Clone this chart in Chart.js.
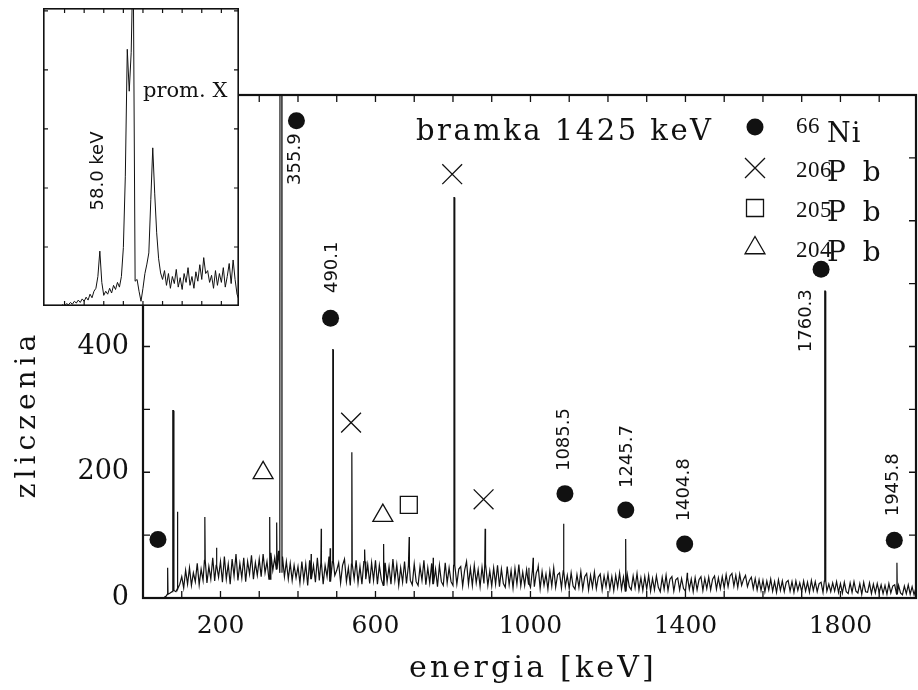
<!DOCTYPE html>
<html><head><meta charset="utf-8">
<script src="https://cdn.jsdelivr.net/npm/chart.js@4.4.1/dist/chart.umd.min.js"></script>
<style>
html,body{margin:0;padding:0;background:#fff;}
#wrap{position:relative;width:918px;height:690px;overflow:hidden;background:#fff;}
#main{position:absolute;left:0;top:0;}
#inset{position:absolute;left:43px;top:8px;background:#fff;}
</style></head><body>
<div id="wrap">
<canvas id="main" width="918" height="690"></canvas>
<canvas id="inset" width="196" height="298"></canvas>
</div>
<script>
// ---------- DATA ----------
const bgStartKeV = 0;
const bgStepKeV = 5;
// background counts, one value per 5 keV (0 ... 1995 keV)
const background = [
0,0,0,0,0,0,0,0,0,0,0,1,3,6,8,10,12,10,14,22,
34,16,44,22,48,20,40,26,55,21,46,28,60,24,50,30,64,27,52,33,
58,25,66,30,54,22,62,35,70,28,55,32,64,26,58,38,68,30,56,36,
62,34,70,40,58,30,72,44,64,46,75,40,66,34,58,30,55,28,52,32,
50,24,58,28,54,20,60,30,52,25,64,28,56,22,52,34,66,26,58,36,
44,56,24,52,62,26,48,20,54,30,60,24,50,22,58,30,53,23,56,28,
60,22,52,30,20,56,26,50,22,62,28,53,20,48,25,58,23,52,28,21,
54,26,20,50,28,60,21,48,24,55,22,46,18,52,26,20,56,24,48,26,
20,52,22,46,50,19,44,58,22,47,20,52,24,45,18,49,23,54,20,43,
19,48,22,52,18,46,23,17,50,21,44,16,47,22,53,19,41,20,45,22,
17,44,18,40,46,15,42,20,38,14,43,19,48,17,37,40,16,43,18,36,
15,40,19,14,37,17,42,14,34,39,13,36,17,41,15,33,38,13,35,18,
38,14,34,12,36,17,40,14,33,11,37,18,13,35,16,39,13,32,12,34,
14,36,11,31,13,35,17,10,33,14,36,12,30,34,11,29,32,13,31,15,
11,33,14,30,10,32,13,29,34,12,31,15,33,13,30,35,14,32,15,34,
16,37,18,35,39,19,36,17,38,20,30,36,18,28,33,15,31,13,29,12,
28,10,27,13,30,11,26,9,29,12,27,10,25,28,11,26,9,27,12,24,
10,27,11,25,9,28,12,26,10,23,25,9,27,11,22,10,24,11,26,9,
23,8,25,10,7,24,9,26,11,8,23,6,25,10,9,24,7,22,8,23,
9,21,7,20,6,23,8,19,21,6,20,8,5,19,7,21,6,18,5,17
];
// gamma lines (energy keV, peak counts, flat-top half width keV)
const peakEnergies = [63.6,78,89,159.6,189.8,327,345,355.9,434,460,483,490.1,539,572,621,687,749,803,883,996,1007,1020,1085.5,1245.7,1404.8,1760.3,1945.8];
const peakCounts   = [48,298,137,129,80,129,120,2000,70,110,79,395,232,77,86,97,64,637,110,48,64,50,118,94,40,488,56];
const peakFlat     = [0,0.6,0,0,0,0,0,1.8,0,0,0,0.3,0,0,0,0,0,0.4,0,0,0,0,0,0,0,0.8,0];

// marker symbols
const ni66Energy  = [38.6,396,484,1089,1246,1398,1750,1939];
const ni66Counts  = [93,759,445,166,140,86,523,92];
const pb206Energy = [798,537,879];
const pb206Counts = [674,279,157];
const pb205Energy = [686];
const pb205Counts = [148];
const pb204Energy = [310,619];
const pb204Counts = [199,131];

// rotated line labels
const lineLabelText   = ['355.9','490.1','1085.5','1245.7','1404.8','1760.3','1945.8'];
const lineLabelEnergy = [394,489,1087,1249,1398,1712,1936];
const lineLabelCounts = [698,526,252,225,172,441,180];

// ticks / texts
const xTickValues = [100,200,300,400,500,600,700,800,900,1000,1100,1200,1300,1400,1500,1600,1700,1800,1900];
const xTickLabels = [200,600,1000,1400,1800];
const yTickLabels = [0,200,400];
const legendMass = ['66','206','205','204'];
const legendElem = ['Ni','Pb','Pb','Pb'];
const gateText = 'bramka 1425 keV';
const xTitle = 'energia [keV]';
const yTitle = 'zliczenia';

// inset: X-ray region, one value per keV from 29 keV
const insetStartKeV = 29;
const insetStepKeV = 1;
const insetCounts = [
0,0,0,0,0,0,0,0,0,0,
0.02,0,0.04,0.02,0.06,0.03,0.08,0.05,0.1,0.06,
0.12,0.08,0.15,0.1,0.2,0.14,0.25,0.3,0.5,0.93,0.4,
0.18,0.25,0.2,0.3,0.22,0.35,0.28,0.4,0.32,0.5,
0.99,2.2,4.35,3.64,4.3,6.0,0.42,0.45,0.25,0.08,0.3,0.55,0.71,0.9,1.8,2.68,1.9,1.24,0.8,0.56,
0.45,0.6,0.35,0.55,0.3,0.5,0.38,0.62,0.32,0.48,
0.28,0.55,0.4,0.65,0.35,0.5,0.3,0.58,0.42,0.7,
0.45,0.82,0.55,0.6,0.4,0.52,0.3,0.6,0.35,0.55,
0.4,0.65,0.32,0.5,0.72,0.38,0.78,0.45,0.2,0.1
];
const insetText1 = '58.0 keV';
const insetText2 = 'prom. X';

// ---------- BUILD ----------
const K = '#111';
function buildSpectrum(){
  const pts = [];
  background.forEach((v,i)=>{
    const e = bgStartKeV + i*bgStepKeV;
    const hit = peakEnergies.some((pe,j)=> e > pe-peakFlat[j]-1.01 && e < pe+peakFlat[j]+1.01);
    if(!hit) pts.push({x:e,y:v});
  });
  peakEnergies.forEach((pe,j)=>{
    const base = background[Math.min(background.length-1, Math.round((pe-bgStartKeV)/bgStepKeV))];
    const w = peakFlat[j];
    pts.push({x:pe-w-1,y:base},{x:pe-w,y:peakCounts[j]},{x:pe+w,y:peakCounts[j]},{x:pe+w+1,y:base});
  });
  pts.sort((a,b)=>a.x-b.x);
  return pts;
}
const xy = (xs,ys)=>xs.map((x,i)=>({x:x,y:ys[i]}));

function spaced(ctx, px){ try{ ctx.letterSpacing = px+'px'; }catch(e){} }

const mainPlugin = {
  id:'mainDeco',
  afterDraw(chart){
    const {ctx, chartArea:a, scales:{x,y}} = chart;
    ctx.save();
    // inward ticks
    ctx.strokeStyle = K; ctx.lineWidth = 1.3;
    ctx.beginPath();
    x.ticks.forEach(t=>{
      if(t.value<=x.min||t.value>=x.max) return;
      const px = x.getPixelForValue(t.value);
      ctx.moveTo(px,a.bottom); ctx.lineTo(px,a.bottom-7);
      ctx.moveTo(px,a.top); ctx.lineTo(px,a.top+7);
    });
    y.ticks.forEach(t=>{
      if(t.value<=y.min||t.value>=y.max) return;
      const py = y.getPixelForValue(t.value);
      ctx.moveTo(a.left,py); ctx.lineTo(a.left+7,py);
      ctx.moveTo(a.right,py); ctx.lineTo(a.right-7,py);
    });
    ctx.stroke();
    // frame
    ctx.lineWidth = 2.2;
    ctx.strokeRect(a.left, a.top, a.right-a.left, a.bottom-a.top);
    ctx.fillStyle = K;
    // x tick labels (at the scale's own tick positions)
    ctx.font = '25px "DejaVu Serif"'; ctx.textAlign='center'; ctx.textBaseline='alphabetic';
    x.ticks.forEach(t=>{
      if(xTickLabels.includes(t.value)) ctx.fillText(String(t.value), x.getPixelForValue(t.value), 633);
    });
    // rotated line labels
    ctx.font = '18px "DejaVu Sans"';
    ctx.textAlign = 'center'; ctx.textBaseline = 'middle';
    lineLabelText.forEach((s,i)=>{
      ctx.save();
      ctx.translate(x.getPixelForValue(lineLabelEnergy[i]), y.getPixelForValue(lineLabelCounts[i]));
      ctx.rotate(-Math.PI/2);
      ctx.fillText(s,0,0);
      ctx.restore();
    });
    // gate text
    ctx.textAlign='left'; ctx.textBaseline='alphabetic';
    ctx.font = '29px "DejaVu Serif"'; spaced(ctx,2.5);
    ctx.fillText(gateText, 416, 140);
    spaced(ctx,0);
    // legend
    const rows = [127,168,208,248];
    const styles = ['circle','crossRot','rect','triangle'];
    rows.forEach((ry,i)=>{
      drawSym(ctx, styles[i], 755, ry);
      ctx.fillStyle = K;
      ctx.font = '23px "Liberation Serif"'; spaced(ctx,0.5);
      ctx.fillText(legendMass[i], 796, ry + (i===0?6:9));
      if(legendElem[i]==='Pb'){ ctx.font = '28px "DejaVu Serif"'; spaced(ctx,17); }
      else { ctx.font = '27px "DejaVu Serif"'; spaced(ctx,1); }
      ctx.fillText(legendElem[i], 827, ry + (i===0?15:13));
      spaced(ctx,0);
    });
    // axis titles
    ctx.font = '30px "DejaVu Serif"'; spaced(ctx,3.2);
    ctx.textAlign='center';
    ctx.fillText(xTitle, 533, 677);
    ctx.save();
    ctx.translate(35, 414); ctx.rotate(-Math.PI/2);
    ctx.font = '28px "DejaVu Serif"'; spaced(ctx,5);
    ctx.fillText(yTitle, 0, 0);
    ctx.restore();
    spaced(ctx,0);
    ctx.restore();
  }
};
function drawSym(ctx, style, cx, cy){
  ctx.save();
  ctx.strokeStyle = K; ctx.fillStyle = K; ctx.lineWidth = 1.3;
  ctx.beginPath();
  if(style==='circle'){ ctx.arc(cx,cy,8.5,0,Math.PI*2); ctx.fill(); }
  else if(style==='crossRot'){ const d=10; ctx.moveTo(cx-d,cy-d); ctx.lineTo(cx+d,cy+d); ctx.moveTo(cx+d,cy-d); ctx.lineTo(cx-d,cy+d); ctx.stroke(); }
  else if(style==='rect'){ ctx.rect(cx-8.5,cy-8.5,17,17); ctx.stroke(); }
  else { const r=11.5; ctx.moveTo(cx,cy-r); ctx.lineTo(cx+r*0.866,cy+r/2); ctx.lineTo(cx-r*0.866,cy+r/2); ctx.closePath(); ctx.stroke(); }
  ctx.restore();
}

new Chart(document.getElementById('main'),{
  type:'line',
  data:{datasets:[
    {type:'line', data:buildSpectrum(), borderColor:K, borderWidth:1.2, pointRadius:0, tension:0, fill:false},
    {type:'scatter', data:xy(ni66Energy,ni66Counts), pointStyle:'circle', pointRadius:8.5, backgroundColor:K, borderColor:K, borderWidth:0},
    {type:'scatter', data:xy(pb206Energy,pb206Counts), pointStyle:'crossRot', pointRadius:14, borderColor:K, backgroundColor:K, borderWidth:1.3},
    {type:'scatter', data:xy(pb205Energy,pb205Counts), pointStyle:'rect', pointRadius:12, borderColor:K, backgroundColor:'rgba(0,0,0,0)', borderWidth:1.3},
    {type:'scatter', data:xy(pb204Energy,pb204Counts), pointStyle:'triangle', pointRadius:11.5, borderColor:K, backgroundColor:'rgba(0,0,0,0)', borderWidth:1.3}
  ]},
  options:{
    responsive:false, animation:false, events:[],
    layout:{autoPadding:false, padding:{top:95,right:2,left:0,bottom:0}},
    plugins:{legend:{display:false}, tooltip:{enabled:false}},
    scales:{
      x:{type:'linear', min:0, max:1995, position:'bottom',
        grid:{display:false, drawTicks:false}, border:{display:false},
        ticks:{display:false, autoSkip:false, maxRotation:0, minRotation:0, padding:0},
        afterBuildTicks:(s)=>{ s.ticks = xTickValues.map(v=>({value:v})); },
        afterFit:(s)=>{ s.height = 92; }},
      y:{type:'linear', min:0, max:800,
        grid:{display:false, drawTicks:false}, border:{display:false},
        ticks:{stepSize:100, autoSkip:false, padding:14, color:K,
          font:{family:'DejaVu Serif', size:27},
          callback:(v)=> yTickLabels.includes(v) ? String(v) : ''},
        afterFit:(s)=>{ s.width = 143; }}
    }
  },
  plugins:[mainPlugin]
});

// ---------- INSET ----------
const insetPlugin = {
  id:'insetDeco',
  afterDraw(chart){
    const {ctx, chartArea:a, scales:{x,y}} = chart;
    ctx.save();
    ctx.strokeStyle = K; ctx.lineWidth = 1.2;
    ctx.beginPath();
    for(let v=40; v<x.max; v+=10){
      const px = x.getPixelForValue(v);
      ctx.moveTo(px,a.bottom); ctx.lineTo(px,a.bottom-5);
      ctx.moveTo(px,a.top); ctx.lineTo(px,a.top+5);
    }
    for(let v=1; v<y.max; v+=1){
      const py = y.getPixelForValue(v);
      ctx.moveTo(a.left,py); ctx.lineTo(a.left+5,py);
      ctx.moveTo(a.right,py); ctx.lineTo(a.right-5,py);
    }
    ctx.stroke();
    ctx.lineWidth = 1.6;
    ctx.strokeRect(a.left+0.8, a.top+0.8, a.right-a.left-1.6, a.bottom-a.top-1.6);
    ctx.fillStyle = K;
    ctx.save();
    ctx.translate(55,163); ctx.rotate(-Math.PI/2);
    ctx.font = '18px "DejaVu Sans"'; ctx.textAlign='center'; ctx.textBaseline='middle';
    ctx.fillText(insetText1,0,0);
    ctx.restore();
    ctx.font = '21px "DejaVu Serif"'; ctx.textAlign='left'; ctx.textBaseline='alphabetic';
    ctx.fillText(insetText2, 100, 89);
    ctx.restore();
  }
};
new Chart(document.getElementById('inset'),{
  type:'line',
  data:{datasets:[{data:insetCounts.map((v,i)=>({x:insetStartKeV+i*insetStepKeV, y:v})), borderColor:K, borderWidth:1, pointRadius:0, tension:0, fill:false}]},
  options:{
    responsive:false, animation:false, events:[],
    layout:{autoPadding:false, padding:0},
    plugins:{legend:{display:false}, tooltip:{enabled:false}},
    scales:{
      x:{type:'linear', min:29, max:129, display:false},
      y:{type:'linear', min:0, max:5.05, display:false}
    }
  },
  plugins:[insetPlugin]
});
</script>
</body></html>
